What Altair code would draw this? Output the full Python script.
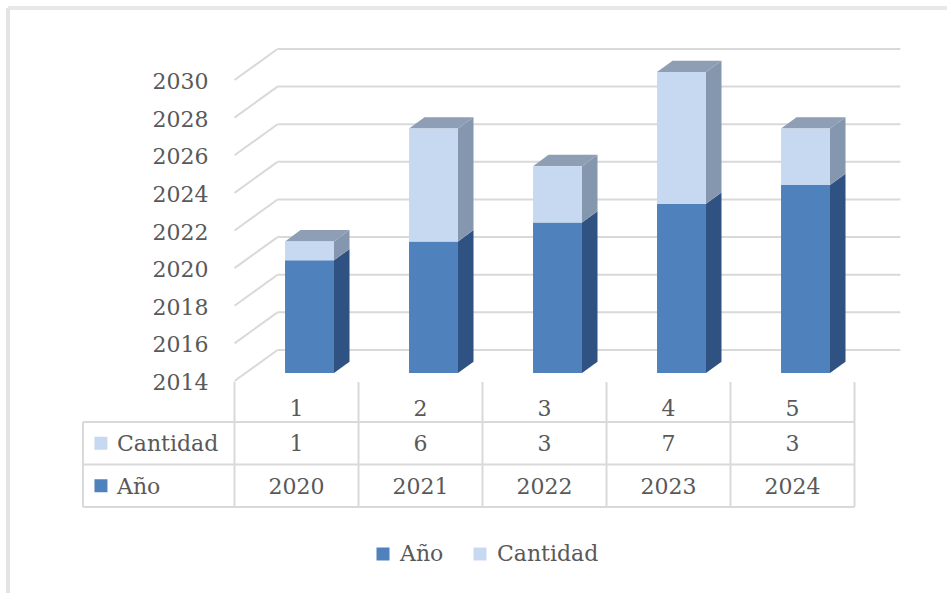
import altair as alt
import pandas as pd

# ---------------- data ----------------
categories = [1, 2, 3, 4, 5]
anio = [2020, 2021, 2022, 2023, 2024]
cantidad = [1, 6, 3, 7, 3]
series = ["Año", "Cantidad"]
y_ticks = [2014, 2016, 2018, 2020, 2022, 2024, 2026, 2028, 2030]
Y_MIN = 2014

# ---------------- style / layout constants ----------------
FONT = "DejaVu Serif"
TXT = "#595959"
GRID = "#D9D9D9"
C_ANIO = "#4F81BD"
C_ANIO_SIDE = "#2F5283"
C_CANT = "#C6D9F1"
C_CANT_SIDE = "#8597AF"
C_TOP = "#8E9EB5"
FS = 22

BAR_W = 0.395       # bar width in category units
BAR_DX = 0.105      # bar front-plane depth shift (category units)
BAR_DY = 0.42       # bar front-plane depth shift (value units)
SIDE_DX = 0.125     # bar depth (category units)
SIDE_DY = 0.6       # bar depth (value units)
BACK_DX = 0.347     # wall depth (category units)
BACK_DY = 1.65      # wall depth (value units)
GRID_END = 5.87
TABLE_LEFT = -0.722

xs = alt.Scale(domain=[0.5, 5.5], range=[234.5, 854.5], nice=False, zero=False)
ys = alt.Scale(domain=[2014, 2030], range=[381, 80], nice=False, zero=False)
ts = alt.Scale(domain=[0, 3], range=[379.5, 507], nice=False, zero=False)

# ---------------- tables built from the lists ----------------
front, side, top = [], [], []
for c, a, q in zip(categories, anio, cantidad):
    segs = [("Año", Y_MIN, a), ("Cantidad", a, a + q)]
    xl = c + BAR_DX - BAR_W / 2
    xr = xl + BAR_W
    for s, base, tp in segs:
        y0, y1 = base + BAR_DY, tp + BAR_DY
        front.append(dict(serie=s, cat=c, xl=xl, xr=xr, y0=y0, y1=y1))
        seg = f"{s}-{c}"
        side.append(dict(serie=s, seg=seg, x=xr, yt=y1, yb=y0))
        side.append(dict(serie=s, seg=seg, x=xr + SIDE_DX, yt=y1 + SIDE_DY, yb=y0 + SIDE_DY))
    ytop = a + q + BAR_DY
    top.append(dict(seg=str(c), y=ytop, xa=xl, xb=xr))
    top.append(dict(seg=str(c), y=ytop + SIDE_DY, xa=xl + SIDE_DX, xb=xr + SIDE_DX))

front = pd.DataFrame(front)
side = pd.DataFrame(side)
top = pd.DataFrame(top)

grid = pd.DataFrame(dict(v=y_ticks))
grid["vb"] = grid["v"] + BACK_DY
grid["x0"] = 0.5
grid["x1"] = 0.5 + BACK_DX
grid["x2"] = GRID_END

color = alt.Color(
    "serie:N",
    scale=alt.Scale(domain=series, range=[C_ANIO, C_CANT]),
    legend=alt.Legend(
        title=None, orient="none", legendX=372, legendY=543, direction="horizontal",
        symbolType="square", symbolSize=169, symbolStrokeWidth=0,
        labelFont=FONT, labelFontSize=FS, labelColor=TXT, labelOffset=6,
        columnPadding=25, padding=0,
    ),
)

# ---------------- gridlines (3D walls) ----------------
back_lines = alt.Chart(grid).mark_rule(color=GRID, strokeWidth=2).encode(
    x=alt.X("x1:Q", scale=xs, axis=None),
    x2="x2:Q",
    y=alt.Y("vb:Q", scale=ys, axis=None),
)
slant_lines = alt.Chart(grid).mark_rule(color=GRID, strokeWidth=2).encode(
    x=alt.X("x0:Q", scale=xs, axis=None),
    x2="x1:Q",
    y=alt.Y("v:Q", scale=ys, axis=None),
    y2="vb:Q",
)
y_labels = alt.Chart(grid).mark_text(
    align="right", baseline="middle", dx=-26, dy=2, font=FONT, fontSize=FS, color=TXT
).encode(
    x=alt.X("x0:Q", scale=xs, axis=None),
    y=alt.Y("v:Q", scale=ys, axis=None),
    text="v:Q",
)

# ---------------- bars ----------------
fronts = alt.Chart(front).mark_bar(strokeWidth=0).encode(
    x=alt.X("xl:Q", scale=xs, axis=None),
    x2="xr:Q",
    y=alt.Y("y0:Q", scale=ys, axis=None),
    y2="y1:Q",
    color=color,
)

def side_layer(s, col):
    return alt.Chart(side[side.serie == s]).mark_area(orient="vertical", color=col, interpolate="linear").encode(
        x=alt.X("x:Q", scale=xs, axis=None),
        y=alt.Y("yt:Q", scale=ys, axis=None),
        y2="yb:Q",
        detail="seg:N",
    )

sides_a = side_layer("Año", C_ANIO_SIDE)
sides_c = side_layer("Cantidad", C_CANT_SIDE)

tops = alt.Chart(top).mark_area(orient="horizontal", color=C_TOP).encode(
    y=alt.Y("y:Q", scale=ys, axis=None),
    x=alt.X("xa:Q", scale=xs, axis=None),
    x2="xb:Q",
    detail="seg:N",
)

# ---------------- data table ----------------
bounds = [0.5 + i for i in range(6)]
vlines = pd.DataFrame(dict(x=bounds, r0=[0.06] * 6, r1=[3] * 6))
vlines = pd.concat([vlines, pd.DataFrame(dict(x=[TABLE_LEFT], r0=[1], r1=[3]))])
hlines = pd.DataFrame(dict(r=[1, 2, 3], xa=[TABLE_LEFT] * 3, xb=[5.5] * 3))

tv = alt.Chart(vlines).mark_rule(color=GRID, strokeWidth=2).encode(
    x=alt.X("x:Q", scale=xs, axis=None),
    y=alt.Y("r0:Q", scale=ts, axis=None),
    y2="r1:Q",
)
th = alt.Chart(hlines).mark_rule(color=GRID, strokeWidth=2).encode(
    x=alt.X("xa:Q", scale=xs, axis=None),
    x2="xb:Q",
    y=alt.Y("r:Q", scale=ts, axis=None),
)

cells = []
for c in categories:
    cells.append(dict(x=c, r=0.67, t=str(c)))
for c, q in zip(categories, cantidad):
    cells.append(dict(x=c, r=1.5, t=str(q)))
for c, a in zip(categories, anio):
    cells.append(dict(x=c, r=2.5, t=str(a)))
cells = pd.DataFrame(cells)

cell_text = alt.Chart(cells).mark_text(
    align="center", baseline="middle", dy=1, font=FONT, fontSize=FS, color=TXT
).encode(
    x=alt.X("x:Q", scale=xs, axis=None),
    y=alt.Y("r:Q", scale=ts, axis=None),
    text="t:N",
)

rows = pd.DataFrame(dict(serie=["Cantidad", "Año"], r=[1.5, 2.5], xs_=[-0.577, -0.577], xt=[-0.4476, -0.4476]))
row_sq = alt.Chart(rows).mark_point(shape="square", filled=True, size=169, opacity=1).encode(
    x=alt.X("xs_:Q", scale=xs, axis=None),
    y=alt.Y("r:Q", scale=ts, axis=None),
    color=alt.Color("serie:N", scale=alt.Scale(domain=series, range=[C_ANIO, C_CANT]), legend=None),
)
row_txt = alt.Chart(rows).mark_text(
    align="left", baseline="middle", dy=1, font=FONT, fontSize=FS, color=TXT
).encode(
    x=alt.X("xt:Q", scale=xs, axis=None),
    y=alt.Y("r:Q", scale=ts, axis=None),
    text="serie:N",
)

# ---------------- outer frame ----------------
frame_top = alt.Chart(grid).mark_rule(color="#E8E8E8", strokeWidth=2.5).encode(
    x=alt.value(8), x2=alt.value(947), y=alt.value(8)
)
frame_left = alt.Chart(grid).mark_rule(color="#E4E4E4", strokeWidth=3).encode(
    x=alt.value(8), y=alt.value(8), y2=alt.value(593)
)

chart = alt.layer(
    frame_top, frame_left,
    back_lines, slant_lines, y_labels,
    sides_a, sides_c, tops, fronts,
    tv, th, cell_text, row_sq, row_txt,
).resolve_scale(y="independent").properties(
    width=947, height=593, autosize=alt.AutoSizeParams(type="none"), padding=0,
    background="white",
).configure_view(stroke=None)

chart.save("out.html", embed_options={"renderer": "svg", "actions": False})
